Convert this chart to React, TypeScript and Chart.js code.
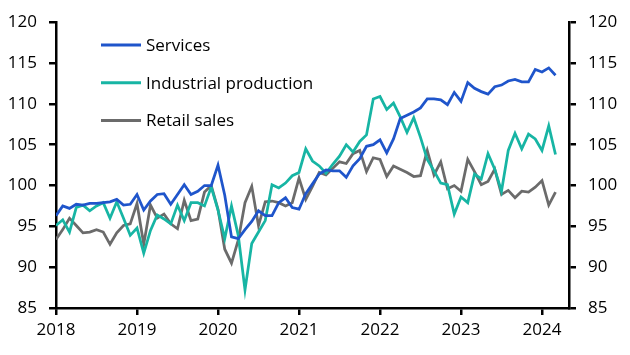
import React, { useEffect, useRef } from 'react';
import { Chart, registerables } from 'chart.js';

Chart.register(...registerables);

// Monthly observations, Jan 2018 .. Mar 2024
const startYear = 2018;
const yearLabels = ['2018', '2019', '2020', '2021', '2022', '2023', '2024'];
const axisMonths = 76; // axis runs to May 2024

const services = [
  96.3, 97.5, 97.2, 97.7, 97.6, 97.8, 97.8, 97.9, 98.0, 98.3, 97.6, 97.7,
  98.9, 97.0, 98.1, 98.9, 99.0, 97.7, 98.9, 100.1, 98.9, 99.3, 100.0, 100.0,
  102.5, 98.8, 93.7, 93.5, 94.6, 95.6, 96.9, 96.3, 96.3, 97.9, 98.5, 97.3,
  97.1, 99.0, 100.2, 101.4, 101.9, 101.8, 101.8, 101.0, 102.4, 103.3, 104.8, 105.0,
  105.6, 104.0, 105.7, 108.2, 108.6, 109.0, 109.5, 110.6, 110.6, 110.5, 109.9, 111.4,
  110.3, 112.6, 111.9, 111.5, 111.2, 112.1, 112.3, 112.8, 113.0, 112.7, 112.7, 114.2,
  113.9, 114.4, 113.5,
];

const industrialProduction = [
  95.1, 95.8, 94.3, 97.3, 97.6, 96.9, 97.5, 97.9, 96.0, 98.0, 96.0, 93.9,
  94.8, 91.7, 94.5, 96.4, 95.9, 95.3, 97.6, 95.7, 97.9, 97.9, 97.5, 99.8,
  97.0, 93.5, 97.5, 93.9, 87.2, 92.9, 94.3, 95.7, 100.1, 99.7, 100.3, 101.2,
  101.6, 104.5, 103.0, 102.4, 101.5, 102.6, 103.6, 105.0, 104.1, 105.4, 106.2, 110.6,
  110.9, 109.3, 110.1, 108.4, 106.5, 108.3, 105.9, 103.2, 101.8, 100.3, 100.1, 96.5,
  98.6, 97.9, 101.4, 100.8, 103.9, 102.0, 99.3, 104.3, 106.4, 104.5, 106.3, 105.7,
  104.3, 107.3, 103.8,
];

const retailSales = [
  93.4, 94.6, 96.0, 95.1, 94.2, 94.3, 94.6, 94.3, 92.8, 94.2, 95.1, 95.3,
  97.8, 92.8, 97.6, 96.0, 96.5, 95.3, 94.7, 98.2, 95.7, 95.9, 99.2, 100.0,
  97.1, 92.2, 90.5, 93.3, 97.9, 99.9, 95.1, 98.0, 98.1, 97.9, 97.5, 97.9,
  100.9, 98.3, 99.9, 101.6, 101.3, 102.1, 102.9, 102.7, 103.9, 104.3, 101.7, 103.4,
  103.2, 101.1, 102.4, 102.0, 101.6, 101.1, 101.2, 104.3, 101.3, 102.9, 99.6, 100.0,
  99.3, 103.2, 101.7, 100.1, 100.5, 102.0, 98.9, 99.4, 98.5, 99.3, 99.2, 99.8,
  100.6, 97.6, 99.2,
];

const seriesNames = ['Services', 'Industrial production', 'Retail sales'];
const seriesColors = ['#1F55CB', '#17B5A4', '#6B6B6B'];

const months = services.map((_, i) => {
  const y = startYear + Math.floor(i / 12);
  const m = (i % 12) + 1;
  return `${y}-${m < 10 ? '0' : ''}${m}`;
});

const FONT = '"Open Sans", sans-serif';

const legendPlugin = {
  id: 'insideLegend',
  afterDraw(chart: any) {
    const ctx = chart.ctx;
    ctx.save();
    chart.data.datasets.forEach((ds: any, k: number) => {
      const y = 45 + k * 37.7;
      ctx.strokeStyle = ds.borderColor;
      ctx.lineWidth = 3;
      ctx.beginPath();
      ctx.moveTo(101, y);
      ctx.lineTo(141, y);
      ctx.stroke();
      ctx.fillStyle = '#000';
      ctx.font = `17px ${FONT}`;
      ctx.textBaseline = 'middle';
      ctx.textAlign = 'left';
      ctx.fillText(ds.label, 146, y + 1);
    });
    ctx.restore();
  },
};

export default function App() {
  const ref = useRef<HTMLCanvasElement | null>(null);

  useEffect(() => {
    if (!ref.current) return;
    const series = [services, industrialProduction, retailSales];
    const axisCommon = {
      grid: { drawOnChartArea: false, drawTicks: true, tickLength: 7, color: '#000', lineWidth: 2.5 },
      border: { display: true, color: '#000', width: 2.5 },
    };
    const chart = new Chart(ref.current, {
      type: 'line',
      data: {
        datasets: series.map((vals, k) => ({
          label: seriesNames[k],
          data: vals.map((v, i) => ({ x: i, y: v, month: months[i] })),
          borderColor: seriesColors[k],
          backgroundColor: seriesColors[k],
          borderWidth: 2.75,
          pointRadius: 0,
          tension: 0,
          fill: false,
          yAxisID: 'y',
        })).reverse().reverse(),
      },
      options: {
        responsive: false,
        animation: false,
        events: [],
        layout: { padding: { top: 15, left: 0, right: 0, bottom: 0 } },
        plugins: { legend: { display: false }, tooltip: { enabled: false } },
        scales: {
          x: {
            type: 'linear',
            min: 0,
            max: axisMonths,
            ...axisCommon,
            afterFit: (s: any) => { s.height = 47; },
            afterBuildTicks: (s: any) => {
              s.ticks = yearLabels.map((_, j) => ({ value: j * 12 }));
            },
            ticks: {
              autoSkip: false,
              maxRotation: 0,
              padding: 5,
              color: '#000',
              font: { family: FONT, size: 17 },
              callback: (v: any) => yearLabels[Math.round(Number(v) / 12)] ?? '',
            },
          },
          y: {
            position: 'left',
            min: 85,
            max: 120,
            ...axisCommon,
            afterFit: (s: any) => { s.width = 56; },
            ticks: { stepSize: 5, padding: 12, color: '#000', font: { family: FONT, size: 17 } },
          },
          y2: {
            position: 'right',
            min: 85,
            max: 120,
            ...axisCommon,
            afterFit: (s: any) => { s.width = 61; },
            ticks: { stepSize: 5, padding: 12, color: '#000', font: { family: FONT, size: 17 } },
          },
        },
      },
      plugins: [legendPlugin],
    } as any);
    return () => chart.destroy();
  }, []);

  return (
    <div style={{ position: 'absolute', left: 0, top: 0, width: 630, height: 355, background: '#fff' }}>
      <canvas ref={ref} width={630} height={355} />
    </div>
  );
}
